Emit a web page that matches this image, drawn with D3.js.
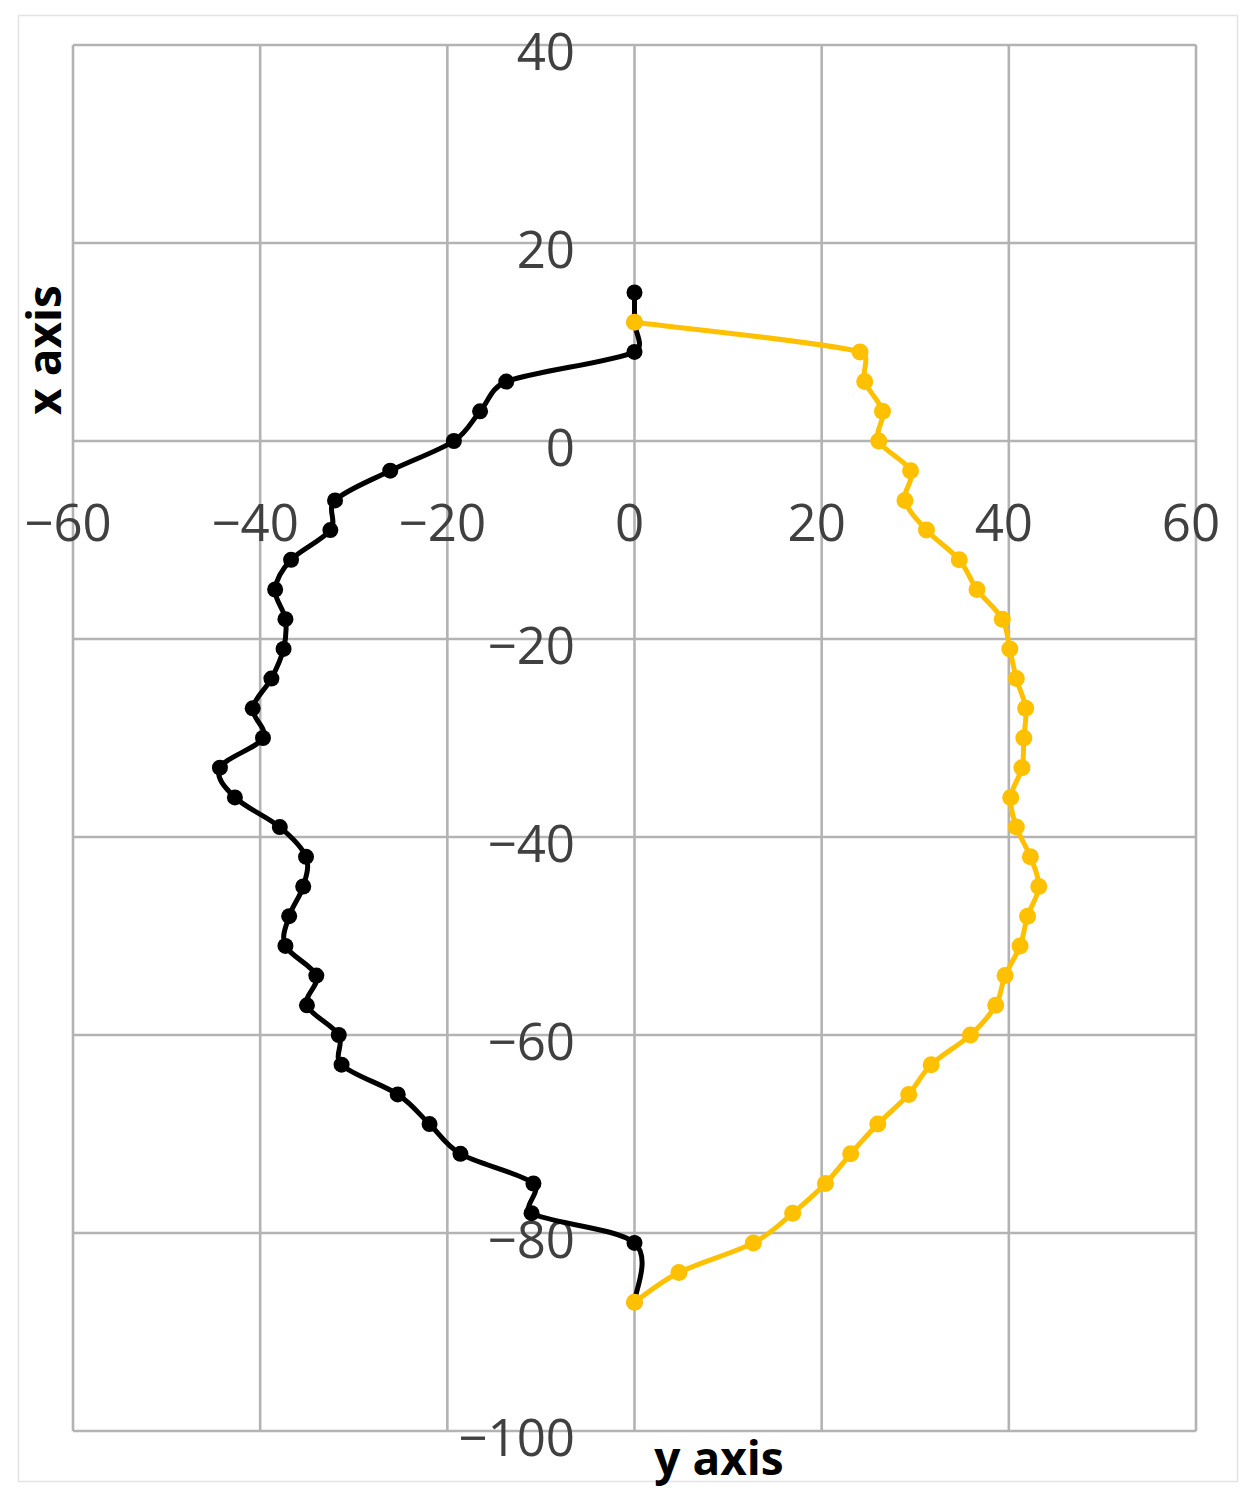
<!DOCTYPE html>
<html>
<head>
<meta charset="utf-8">
<script src="https://cdn.jsdelivr.net/npm/d3@7"></script>
<style>
  html, body { margin: 0; padding: 0; background: #fff; }
  svg { display: block; }
</style>
</head>
<body>
<svg id="chart" width="1256" height="1501"></svg>
<script>
// ---- data ----
const xTicks = [-60, -40, -20, 0, 20, 40, 60];
const yTicks = [40, 20, 0, -20, -40, -60, -80, -100];

// black series (left contour)
const blackV = [15, 12, 9, 6, 3, 0, -3, -6, -9, -12, -15, -18, -21, -24, -27, -30, -33, -36, -39, -42,
                -45, -48, -51, -54, -57, -60, -63, -66, -69, -72, -75, -78, -81, -87];
const blackH = [0, 0, 0, -13.7, -16.5, -19.3, -26.1, -32.0, -32.5, -36.7, -38.4, -37.3, -37.5, -38.8, -40.8, -39.7, -44.3, -42.7, -37.9, -35.1,
                -35.4, -36.9, -37.3, -34.0, -35.0, -31.6, -31.3, -25.3, -21.9, -18.6, -10.8, -11.0, 0, 0];

// yellow series (right contour)
const yellowV = [12, 9, 6, 3, 0, -3, -6, -9, -12, -15, -18, -21, -24, -27, -30, -33, -36, -39, -42, -45,
                 -48, -51, -54, -57, -60, -63, -66, -69, -72, -75, -78, -81, -84, -87];
const yellowH = [0, 24.1, 24.6, 26.5, 26.1, 29.5, 28.9, 31.2, 34.7, 36.6, 39.3, 40.1, 40.8, 41.8, 41.6, 41.4, 40.2, 40.8, 42.3, 43.2,
                 42.0, 41.2, 39.6, 38.6, 35.9, 31.7, 29.3, 26.0, 23.1, 20.4, 16.9, 12.7, 4.75, 0];

const xTitle = "x axis";
const yTitle = "y axis";

(function () {
  // Spreadsheet-style smoothed line: Catmull-Rom Bezier handles (1/6 of the chord),
  // with handle length limited relative to the segment it belongs to.
  function SmoothCurve(context) { this._context = context; }
  SmoothCurve.prototype = {
    areaStart() { this._line = 0; },
    areaEnd() { this._line = NaN; },
    lineStart() { this._pts = []; },
    point(px, py) { this._pts.push([+px, +py]); },
    lineEnd() {
      const p = this._pts, c = this._context, n = p.length;
      if (!n) return;
      c.moveTo(p[0][0], p[0][1]);
      const cap = (v, lim) => {
        const m = Math.hypot(v[0], v[1]);
        return m > lim && m > 0 ? [v[0] * lim / m, v[1] * lim / m] : v;
      };
      for (let i = 0; i < n - 1; i++) {
        const p0 = p[i - 1] || p[i], p1 = p[i], p2 = p[i + 1], p3 = p[i + 2] || p[i + 1];
        const L = Math.hypot(p2[0] - p1[0], p2[1] - p1[1]);
        const t1 = cap([(p2[0] - p0[0]) / 6, (p2[1] - p0[1]) / 6], 0.42 * L);
        const t2 = cap([(p3[0] - p1[0]) / 6, (p3[1] - p1[1]) / 6], 0.42 * L);
        c.bezierCurveTo(p1[0] + t1[0], p1[1] + t1[1], p2[0] - t2[0], p2[1] - t2[1], p2[0], p2[1]);
      }
    }
  };
  const curveSmooth = ctx => new SmoothCurve(ctx);

  // ---- layout ----
  const svg = d3.select("#chart");
  const pL = 73, pR = 1196, pT = 45, pB = 1431;

  const x = d3.scaleLinear().domain([-60, 60]).range([pL, pR]);
  const y = d3.scaleLinear().domain([-100, 40]).range([pB, pT]);

  // outer border
  svg.append("rect")
    .attr("x", 18.5).attr("y", 15.5)
    .attr("width", 1219).attr("height", 1466)
    .attr("fill", "#fff").attr("stroke", "#e3e3e3").attr("stroke-width", 1.5);

  // gridlines
  const grid = svg.append("g").attr("stroke", "#b3b3b3").attr("stroke-width", 2.6);
  grid.selectAll("line.v").data(xTicks).join("line").attr("class", "v")
    .attr("x1", d => x(d)).attr("x2", d => x(d))
    .attr("y1", pT).attr("y2", pB);
  grid.selectAll("line.h").data(yTicks).join("line").attr("class", "h")
    .attr("y1", d => y(d)).attr("y2", d => y(d))
    .attr("x1", pL).attr("x2", pR);

  const fmt = d => (d < 0 ? "\u2212" + Math.abs(d) : String(d));

  // x tick labels
  svg.append("g")
    .attr("font-family", "'Open Sans', 'Noto Sans', sans-serif")
    .attr("font-size", 51).attr("fill", "#404040")
    .selectAll("text").data(xTicks).join("text")
    .attr("x", d => x(d) - 5)
    .attr("y", 541)
    .attr("text-anchor", "middle")
    .text(fmt);

  // y tick labels
  svg.append("g")
    .attr("font-family", "'Open Sans', 'Noto Sans', sans-serif")
    .attr("font-size", 51).attr("fill", "#404040")
    .selectAll("text").data(yTicks).join("text")
    .attr("x", 575)
    .attr("y", d => y(d) + 25)
    .attr("text-anchor", "end")
    .text(fmt);

  // series
  const line = d3.line().x(d => x(d[0])).y(d => y(d[1])).curve(curveSmooth);

  const blackPts = blackH.map((h, i) => [h, blackV[i]]);
  const yellowPts = yellowH.map((h, i) => [h, yellowV[i]]);

  svg.append("path").datum(blackPts)
    .attr("d", line).attr("fill", "none")
    .attr("stroke", "#000").attr("stroke-width", 5).attr("stroke-linejoin", "round");
  svg.append("g").selectAll("circle").data(blackPts).join("circle")
    .attr("cx", d => x(d[0])).attr("cy", d => y(d[1])).attr("r", 8).attr("fill", "#000");

  svg.append("path").datum(yellowPts)
    .attr("d", line).attr("fill", "none")
    .attr("stroke", "#FFC000").attr("stroke-width", 5).attr("stroke-linejoin", "round");
  svg.append("g").selectAll("circle").data(yellowPts).join("circle")
    .attr("cx", d => x(d[0])).attr("cy", d => y(d[1])).attr("r", 8.5).attr("fill", "#FFC000");

  // axis titles
  svg.append("text")
    .attr("transform", "translate(61,350) rotate(-90)")
    .attr("text-anchor", "middle")
    .attr("font-family", "'Open Sans', 'Noto Sans', sans-serif")
    .attr("font-size", 46).attr("font-weight", "bold").attr("fill", "#000")
    .text(xTitle);

  svg.append("text")
    .attr("x", 719).attr("y", 1475)
    .attr("text-anchor", "middle")
    .attr("font-family", "'Open Sans', 'Noto Sans', sans-serif")
    .attr("font-size", 46).attr("font-weight", "bold").attr("fill", "#000")
    .text(yTitle);
})();
</script>
</body>
</html>
